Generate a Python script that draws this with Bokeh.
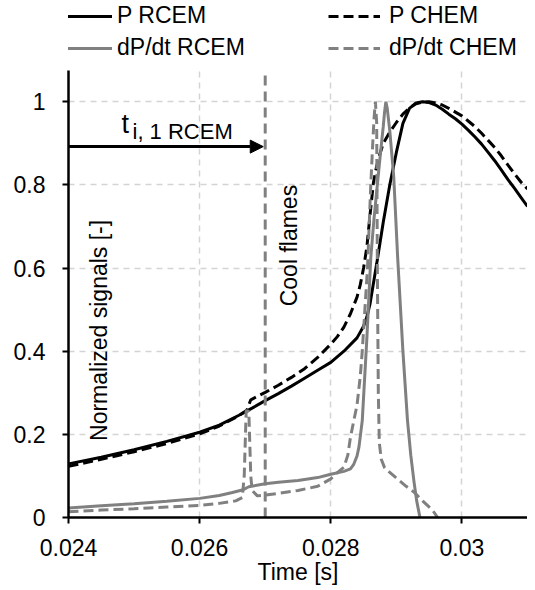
import math
from bokeh.plotting import figure
from bokeh.models import (Range1d, FixedTicker, Legend, LegendItem, Label,
                          Arrow, NormalHead, BoxAnnotation)
from bokeh.embed import file_html
from bokeh.resources import INLINE

# ---------------- data ----------------
t_p_rcem = [0.0240, 0.0245, 0.0250, 0.0255, 0.0260, 0.0263, 0.0266, 0.0268, 0.0270,
            0.0272, 0.0274, 0.0276, 0.0278, 0.0280, 0.0282, 0.0284, 0.02850, 0.02855,
            0.02860, 0.02870, 0.02880, 0.02890, 0.02900, 0.02910, 0.02920, 0.02930,
            0.02940, 0.02950, 0.02960, 0.02970, 0.02980, 0.02990, 0.03000, 0.03010,
            0.03020, 0.03030, 0.03040, 0.03050, 0.03060, 0.03070, 0.03080, 0.03090,
            0.03100]
p_rcem = [0.129, 0.145, 0.163, 0.183, 0.205, 0.222, 0.246, 0.263, 0.281,
          0.298, 0.316, 0.335, 0.354, 0.373, 0.400, 0.432, 0.460, 0.482,
          0.515, 0.610, 0.710, 0.800, 0.878, 0.948, 0.984, 0.997,
          1.000, 0.998, 0.992, 0.982, 0.970, 0.959, 0.946, 0.931,
          0.915, 0.898, 0.878, 0.858, 0.836, 0.813, 0.792, 0.770,
          0.748]

t_p_chem = [0.0240, 0.0245, 0.0250, 0.0255, 0.0260, 0.0263, 0.0266, 0.02672, 0.02678,
            0.0270, 0.0272, 0.0274, 0.0276, 0.0278, 0.0280, 0.0281, 0.0282, 0.0283,
            0.02840, 0.02845, 0.02850, 0.02855, 0.02860, 0.02865, 0.02870, 0.02875,
            0.02880, 0.02890, 0.02900, 0.02910, 0.02920, 0.02930, 0.02940, 0.02950,
            0.02960, 0.02970, 0.02980, 0.02990, 0.03000, 0.03010, 0.03020, 0.03030,
            0.03040, 0.03050, 0.03060, 0.03070, 0.03080, 0.03090, 0.03100]
p_chem = [0.123, 0.140, 0.158, 0.178, 0.201, 0.220, 0.245, 0.258, 0.283,
          0.301, 0.318, 0.337, 0.358, 0.385, 0.417, 0.435, 0.458, 0.490,
          0.530, 0.560, 0.600, 0.650, 0.730, 0.805, 0.845, 0.875,
          0.900, 0.927, 0.950, 0.970, 0.985, 0.995, 0.999, 1.000,
          0.997, 0.992, 0.984, 0.975, 0.966, 0.953, 0.940, 0.924,
          0.907, 0.890, 0.870, 0.848, 0.827, 0.807, 0.790]

t_dp_rcem = [0.0240, 0.0245, 0.0250, 0.0255, 0.0260, 0.0263, 0.0265, 0.02665, 0.02675,
             0.0270, 0.0272, 0.0275, 0.0278, 0.0280, 0.0282, 0.02830, 0.02835, 0.02840,
             0.02843, 0.02848, 0.02855, 0.02861, 0.02866, 0.02871, 0.02876, 0.02880,
             0.02882, 0.02884, 0.02886, 0.02890, 0.02896, 0.02902, 0.02910, 0.02917,
             0.02922, 0.02927, 0.02931, 0.02936]
dp_rcem = [0.023, 0.028, 0.033, 0.039, 0.046, 0.053, 0.060, 0.066, 0.074,
           0.081, 0.085, 0.089, 0.096, 0.104, 0.111, 0.117, 0.128, 0.148,
           0.170, 0.233, 0.430, 0.625, 0.720, 0.800, 0.880, 0.940,
           0.975, 1.000, 0.985, 0.930, 0.820, 0.625, 0.400, 0.233,
           0.150, 0.085, 0.040, 0.000]

t_dp_chem = [0.0240, 0.0245, 0.0250, 0.0255, 0.0260, 0.0263, 0.02655, 0.02665, 0.02668,
             0.02671, 0.02675, 0.02678, 0.02680, 0.02688, 0.0270, 0.0272, 0.0275, 0.0278,
             0.0280, 0.0281, 0.02820, 0.02826, 0.02830, 0.02836, 0.02840, 0.02845,
             0.02848, 0.02852, 0.02856, 0.02861, 0.02864, 0.02866, 0.02868, 0.02870,
             0.02871, 0.028725, 0.02874, 0.02877, 0.02882, 0.028865, 0.0290, 0.02915,
             0.02927, 0.02940, 0.02955, 0.02963]
dp_chem = [0.014, 0.018, 0.021, 0.025, 0.029, 0.034, 0.040, 0.048, 0.100,
           0.257, 0.255, 0.100, 0.065, 0.052, 0.054, 0.058, 0.065, 0.075,
           0.093, 0.108, 0.121, 0.150, 0.193, 0.240, 0.270, 0.340,
           0.400, 0.500, 0.600, 0.800, 0.900, 0.960, 1.000, 0.950,
           0.600, 0.300, 0.180, 0.140, 0.120, 0.113, 0.095, 0.075,
           0.061, 0.040, 0.018, 0.000]

x_ticks = [0.024, 0.026, 0.028, 0.030]
x_tick_labels = ["0.024", "0.026", "0.028", "0.03"]
y_ticks = [0, 0.2, 0.4, 0.6, 0.8, 1.0]
y_tick_labels = ["0", "0.2", "0.4", "0.6", "0.8", "1"]

cool_flame_time = 0.027
arrow_level = 0.892
y_top = 1.075          # top of the drawn axis
y_view_top = 1.2434    # extra room above the axis for the legend

FONT = "Liberation Sans"
GRAY = "#808080"

p = figure(width=527, height=590, output_backend="svg", toolbar_location=None,
           x_range=Range1d(0.024, 0.031), y_range=Range1d(0, y_view_top),
           min_border_left=68, min_border_right=0, min_border_top=0,
           min_border_bottom=73)
p.outline_line_color = None
p.background_fill_color = "white"
p.border_fill_color = "white"

# axes
for ax in (p.xaxis[0], p.yaxis[0]):
    ax.axis_line_color = "black"
    ax.axis_line_width = 2.5
    ax.major_tick_line_color = "black"
    ax.major_tick_line_width = 2
    ax.major_tick_in = 0
    ax.major_tick_out = 6
    ax.minor_tick_line_color = None
    ax.major_label_text_font = FONT
    ax.major_label_text_font_size = "23px"
    ax.major_label_text_color = "black"

p.yaxis.bounds = (0, y_top)
p.xaxis.ticker = FixedTicker(ticks=x_ticks)
p.xaxis.major_label_overrides = dict(zip(x_ticks, x_tick_labels))
p.yaxis.ticker = FixedTicker(ticks=y_ticks)
p.yaxis.major_label_overrides = dict(zip(y_ticks, y_tick_labels))
p.xaxis.major_label_standoff = 15
p.yaxis.major_label_standoff = 17
p.xaxis.axis_label = "Time [s]"
p.xaxis.axis_label_text_font = FONT
p.xaxis.axis_label_text_font_size = "23px"
p.xaxis.axis_label_text_font_style = "normal"
p.xaxis.axis_label_text_color = "black"
p.xaxis.axis_label_standoff = 0

for g in (p.xgrid[0], p.ygrid[0]):
    g.grid_line_color = "#d4d4d4"
    g.grid_line_width = 1.5
    g.grid_line_dash = "6 5"

# hide grid above the axis top (legend area)
p.add_layout(BoxAnnotation(bottom=y_top, fill_color="white", fill_alpha=1.0,
                           line_color=None, level="underlay"))

# curves
r1 = p.line(t_p_rcem, p_rcem, line_color="black", line_width=3)
r2 = p.line(t_p_chem, p_chem, line_color="black", line_width=3, line_dash="10 5")
r3 = p.line(t_dp_rcem, dp_rcem, line_color=GRAY, line_width=3)
r4 = p.line(t_dp_chem, dp_chem, line_color=GRAY, line_width=3, line_dash="10 5")

# vertical marker at cool flame time
p.segment(x0=[cool_flame_time], y0=[0], x1=[cool_flame_time], y1=[y_top],
          line_color=GRAY, line_width=3, line_dash="10 6")

# arrow
p.add_layout(Arrow(x_start=0.024, y_start=arrow_level, x_end=0.02697, y_end=arrow_level,
                   line_color="black", line_width=3,
                   end=NormalHead(size=13, fill_color="black", line_color="black")))

# texts
p.add_layout(Label(x=0.024808, y=0.947, text="t", text_font=FONT, text_font_size="27px",
                   text_baseline="alphabetic", text_color="black"))
p.add_layout(Label(x=0.024976, y=0.928, text="i, 1 RCEM", text_font=FONT,
                   text_font_size="22px", text_baseline="alphabetic", text_color="black"))
p.add_layout(Label(x=0.027370, y=0.654, text="Cool flames", angle=math.pi / 2,
                   text_font=FONT, text_font_size="23px", text_align="center",
                   text_baseline="middle", text_color="black"))
p.add_layout(Label(x=0.024458, y=0.450, text="Normalized signals [-]", angle=math.pi / 2,
                   text_font=FONT, text_font_size="23px", text_align="center",
                   text_baseline="middle", text_color="black"))

# legends: two columns at the top
def make_legend(items, x, standoff):
    return Legend(items=items, location=(x, 456), orientation="vertical",
                  glyph_width=52, glyph_height=20, label_height=20,
                  label_standoff=standoff, spacing=5, padding=0, margin=0,
                  border_line_color=None, background_fill_alpha=0,
                  label_text_font=FONT, label_text_font_size="23px",
                  label_text_color="black")

p.add_layout(make_legend([LegendItem(label="P RCEM", renderers=[r1]),
                          LegendItem(label="dP/dt RCEM", renderers=[r3])], -8, 5))
p.add_layout(make_legend([LegendItem(label="P CHEM", renderers=[r2]),
                          LegendItem(label="dP/dt CHEM", renderers=[r4])], 260, 9))

open("out.html", "w").write(file_html(p, INLINE))
